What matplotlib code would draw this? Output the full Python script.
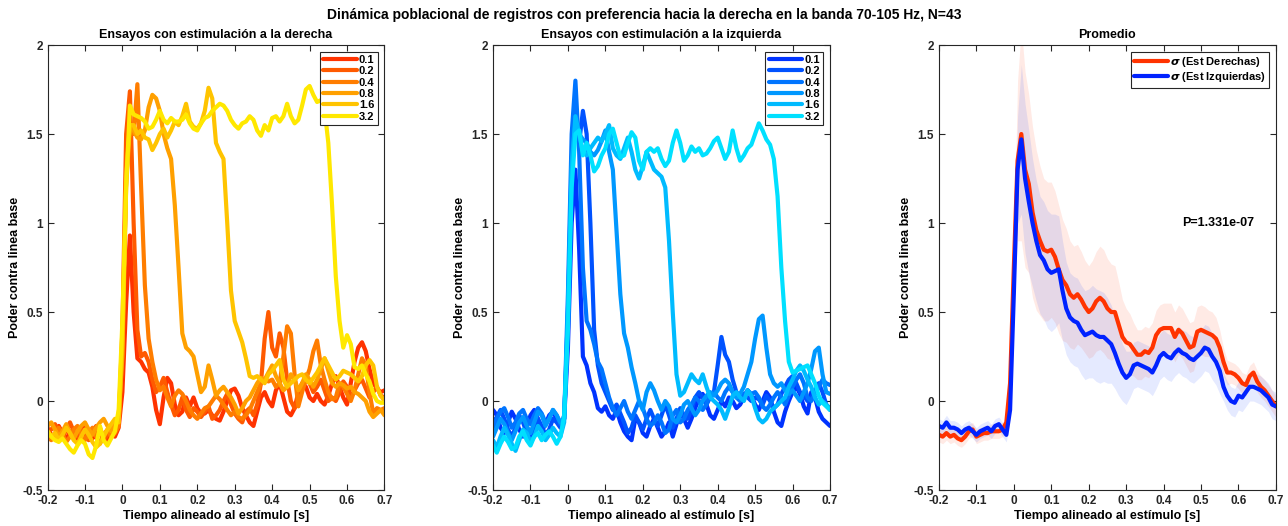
import numpy as np
import matplotlib
matplotlib.use("Agg")
import matplotlib.pyplot as plt
from matplotlib.ticker import FuncFormatter

plt.rcParams['font.family'] = ['Liberation Sans', 'DejaVu Sans']
plt.rcParams['font.weight'] = 'bold'
plt.rcParams['lines.solid_joinstyle'] = 'round'
plt.rcParams['lines.solid_capstyle'] = 'round'

# tiempo [s], muestras cada 10 ms
t = np.round(np.arange(-0.2, 0.7001, 0.01), 2)

labels = ['0.1', '0.2', '0.4', '0.8', '1.6', '3.2']

# ---- estimulacion a la derecha ----
der_01 = [-0.15, -0.19, -0.21, -0.14, -0.18, -0.22, -0.17, -0.20, -0.23, -0.18,
          -0.13, -0.18, -0.21, -0.19, -0.15, -0.21, -0.23, -0.19, -0.20, -0.15,
          0.05, 0.55, 0.93, 0.50, 0.24, 0.22, 0.18, 0.16, 0.08, -0.05,
          -0.13, 0.02, 0.13, 0.10, -0.02, -0.08, -0.06, 0.02, -0.03, 0.02,
          -0.04, -0.07, -0.07, -0.05, -0.08, -0.10, -0.11, -0.06, 0.00, 0.06,
          0.07, 0.03, -0.04, -0.08, -0.12, -0.14, -0.06, 0.02, 0.05, 0.00,
          -0.03, 0.06, 0.10, 0.02, -0.06, -0.08, -0.04, 0.05, 0.10, 0.08,
          0.02, 0.00, 0.04, 0.00, -0.02, 0.03, 0.10, 0.14, 0.08, 0.02,
          -0.02, 0.10, 0.22, 0.30, 0.33, 0.28, 0.18, 0.10, 0.07, 0.05,
          0.06]
der_02 = [-0.18, -0.16, -0.13, -0.17, -0.21, -0.16, -0.12, -0.17, -0.20, -0.16,
          -0.19, -0.22, -0.17, -0.14, -0.18, -0.22, -0.19, -0.15, -0.17, -0.12,
          0.40, 1.50, 1.74, 1.00, 0.40, 0.25, 0.27, 0.22, 0.12, 0.05,
          0.08, 0.13, 0.05, -0.02, -0.08, -0.05, 0.02, -0.05, -0.09, -0.04,
          -0.06, -0.09, -0.06, -0.03, -0.10, -0.08, -0.05, 0.00, 0.04, -0.02,
          -0.07, -0.10, -0.12, -0.06, -0.04, -0.08, -0.02, 0.10, 0.35, 0.50,
          0.30, 0.25, 0.38, 0.30, 0.12, 0.00, -0.04, 0.02, 0.08, 0.12,
          0.10, 0.05, 0.08, 0.12, 0.06, 0.00, 0.02, 0.00, 0.05, 0.11,
          0.08, 0.02, 0.06, 0.10, 0.12, 0.07, 0.02, 0.05, 0.08, 0.03,
          0.02]
der_04 = [-0.20, -0.22, -0.18, -0.15, -0.19, -0.23, -0.20, -0.16, -0.14, -0.19,
          -0.22, -0.18, -0.15, -0.20, -0.24, -0.19, -0.16, -0.20, -0.18, -0.14,
          0.30, 1.30, 1.55, 1.50, 1.78, 1.20, 0.65, 0.35, 0.22, 0.12,
          0.06, 0.08, 0.02, -0.03, 0.03, 0.06, 0.04, 0.00, -0.05, -0.08,
          -0.10, -0.07, -0.04, -0.03, 0.00, 0.03, 0.01, -0.02, -0.05, -0.08,
          -0.06, -0.09, -0.10, -0.08, -0.05, 0.00, 0.05, 0.10, 0.12, 0.11,
          0.12, 0.08, 0.10, 0.25, 0.42, 0.38, 0.15, -0.03, 0.05, 0.12,
          0.18, 0.28, 0.34, 0.20, 0.12, 0.05, 0.01, 0.02, 0.10, 0.08,
          0.04, 0.00, 0.06, 0.15, 0.24, 0.20, 0.05, -0.07, -0.04, -0.05,
          -0.04]
der_08 = [-0.14, -0.12, -0.16, -0.20, -0.17, -0.13, -0.18, -0.21, -0.17, -0.14,
          -0.12, -0.16, -0.19, -0.15, -0.12, -0.10, -0.14, -0.17, -0.13, -0.08,
          0.25, 1.20, 1.55, 1.52, 1.48, 1.47, 1.52, 1.65, 1.72, 1.70,
          1.63, 1.50, 1.42, 1.36, 1.10, 0.75, 0.38, 0.30, 0.28, 0.25,
          0.15, 0.05, 0.08, 0.20, 0.12, 0.03, 0.06, 0.08, 0.05, 0.02,
          -0.02, -0.07, -0.04, 0.00, 0.02, 0.06, 0.10, 0.13, 0.12, 0.16,
          0.20, 0.14, 0.10, 0.06, 0.08, 0.15, 0.12, 0.06, 0.10, 0.15,
          0.12, 0.08, 0.12, 0.18, 0.24, 0.17, 0.10, 0.08, 0.10, 0.09,
          0.07, 0.08, 0.05, 0.04, 0.02, 0.00, -0.06, -0.09, -0.07, -0.05,
          -0.08]
der_16 = [-0.17, -0.20, -0.18, -0.22, -0.19, -0.15, -0.18, -0.22, -0.24, -0.20,
          -0.16, -0.19, -0.23, -0.26, -0.24, -0.20, -0.16, -0.13, -0.10, -0.12,
          0.35, 1.25, 1.55, 1.55, 1.50, 1.52, 1.48, 1.47, 1.41, 1.45,
          1.50, 1.53, 1.48, 1.52, 1.57, 1.55, 1.60, 1.67, 1.57, 1.54,
          1.53, 1.56, 1.63, 1.76, 1.70, 1.45, 1.40, 1.36, 1.00, 0.62,
          0.45, 0.39, 0.33, 0.24, 0.14, 0.13, 0.14, 0.12, 0.10, 0.15,
          0.17, 0.20, 0.23, 0.12, 0.08, 0.10, 0.12, 0.14, 0.15, 0.12,
          0.10, 0.13, 0.16, 0.20, 0.24, 0.20, 0.16, 0.12, 0.14, 0.17,
          0.16, 0.15, 0.13, 0.11, 0.14, 0.20, 0.23, 0.20, 0.08, 0.03,
          0.00]
der_32 = [-0.17, -0.20, -0.22, -0.23, -0.21, -0.24, -0.27, -0.29, -0.25, -0.22,
          -0.24, -0.30, -0.32, -0.25, -0.14, -0.22, -0.25, -0.21, -0.17, -0.05,
          0.45, 1.20, 1.66, 1.61, 1.60, 1.59, 1.57, 1.53, 1.54, 1.58,
          1.63, 1.58, 1.56, 1.59, 1.57, 1.57, 1.58, 1.61, 1.56, 1.53,
          1.52, 1.56, 1.59, 1.60, 1.63, 1.65, 1.67, 1.66, 1.63, 1.58,
          1.55, 1.53, 1.56, 1.57, 1.60, 1.58, 1.52, 1.49, 1.55, 1.52,
          1.59, 1.60, 1.57, 1.60, 1.67, 1.60, 1.56, 1.58, 1.66, 1.75,
          1.77, 1.72, 1.68, 1.69, 1.64, 1.45, 1.10, 0.70, 0.45, 0.30,
          0.37, 0.32, 0.19, 0.18, 0.20, 0.15, 0.11, 0.04, 0.00, -0.01,
          -0.01]

# ---- estimulacion a la izquierda ----
izq_01 = [-0.05, -0.08, -0.15, -0.18, -0.12, -0.06, -0.10, -0.16, -0.20, -0.14,
          -0.08, -0.05, -0.10, -0.17, -0.13, -0.08, -0.06, -0.10, -0.14, -0.10,
          0.30, 1.00, 1.30, 0.85, 0.25, 0.20, 0.10, 0.05, -0.04, -0.06,
          -0.03, -0.08, -0.10, -0.05, -0.12, -0.17, -0.20, -0.22, -0.10, -0.12,
          -0.18, -0.20, -0.14, -0.10, -0.15, -0.20, -0.17, -0.12, -0.20, -0.13,
          -0.06, -0.10, -0.15, -0.10, -0.04, 0.02, 0.04, -0.02, -0.08, -0.10,
          -0.05, 0.00, -0.03, 0.02, 0.00, -0.04, -0.02, 0.02, 0.06, 0.03,
          -0.02, -0.05, 0.00, 0.05, 0.02, -0.06, -0.12, -0.14, -0.06, 0.00,
          0.05, 0.08, 0.04, -0.03, -0.07, 0.05, 0.02, -0.06, -0.10, -0.12,
          -0.14]
izq_02 = [-0.12, -0.09, -0.05, -0.10, -0.16, -0.20, -0.15, -0.08, -0.12, -0.18,
          -0.22, -0.15, -0.10, -0.14, -0.19, -0.16, -0.10, -0.12, -0.15, -0.08,
          0.40, 1.30, 1.55, 1.45, 1.63, 1.50, 1.00, 0.40, 0.20, 0.10,
          0.05, 0.00, -0.05, -0.02, -0.07, -0.12, -0.18, -0.15, -0.08, -0.12,
          -0.16, -0.10, -0.05, -0.10, -0.14, -0.08, -0.02, -0.08, -0.15, -0.10,
          -0.04, -0.08, -0.10, -0.05, 0.02, 0.05, 0.02, -0.02, 0.02, 0.05,
          0.20, 0.36, 0.26, 0.22, 0.12, 0.05, 0.03, 0.04, 0.02, 0.00,
          0.02, 0.01, -0.02, 0.03, 0.00, -0.04, -0.02, 0.04, 0.08, 0.12,
          0.14, 0.10, 0.05, 0.03, 0.00, 0.02, 0.06, 0.10, 0.05, -0.02,
          -0.05]
izq_04 = [-0.15, -0.10, -0.06, -0.04, -0.09, -0.15, -0.12, -0.07, -0.05, -0.10,
          -0.13, -0.08, -0.04, -0.07, -0.12, -0.10, -0.05, -0.08, -0.13, -0.10,
          0.60, 1.50, 1.80, 1.40, 0.75, 0.45, 0.40, 0.32, 0.22, 0.18,
          0.10, 0.02, -0.04, -0.08, -0.04, 0.00, -0.06, -0.10, -0.05, 0.00,
          -0.04, -0.10, -0.14, -0.12, -0.08, -0.12, -0.18, -0.16, -0.08, -0.05,
          -0.12, -0.10, -0.05, -0.02, 0.02, 0.00, -0.05, -0.02, 0.04, 0.05,
          0.02, 0.00, 0.05, 0.08, 0.05, 0.02, 0.00, 0.03, 0.06, 0.04,
          0.05, 0.02, -0.03, -0.05, -0.02, 0.02, 0.05, 0.02, -0.02, 0.03,
          0.08, 0.12, 0.15, 0.10, 0.02, 0.00, 0.04, 0.08, 0.12, 0.10,
          0.09]
izq_08 = [-0.20, -0.15, -0.10, -0.13, -0.18, -0.22, -0.17, -0.12, -0.09, -0.14,
          -0.18, -0.12, -0.06, -0.08, -0.14, -0.10, -0.05, -0.08, -0.12, -0.10,
          0.50, 1.35, 1.56, 1.50, 1.47, 1.45, 1.40, 1.38, 1.41, 1.46,
          1.52, 1.40, 1.30, 0.95, 0.60, 0.38, 0.30, 0.19, 0.10, 0.00,
          -0.05, 0.05, 0.10, 0.06, 0.00, -0.05, 0.00, -0.03, -0.10, -0.12,
          -0.08, -0.02, 0.00, -0.04, -0.08, -0.05, 0.00, 0.03, 0.05, 0.03,
          0.06, 0.10, 0.12, 0.10, 0.05, 0.02, 0.04, 0.08, 0.15, 0.22,
          0.35, 0.46, 0.48, 0.30, 0.15, 0.10, 0.08, 0.10, 0.06, 0.04,
          0.06, 0.03, 0.00, 0.05, 0.10, 0.18, 0.28, 0.30, 0.15, 0.05,
          0.04]
izq_16 = [-0.22, -0.26, -0.20, -0.15, -0.19, -0.24, -0.28, -0.22, -0.16, -0.18,
          -0.23, -0.20, -0.14, -0.17, -0.22, -0.19, -0.15, -0.18, -0.20, -0.12,
          0.50, 1.30, 1.60, 1.50, 1.40, 1.38, 1.42, 1.45, 1.48, 1.46,
          1.50, 1.55, 1.42, 1.38, 1.36, 1.42, 1.48, 1.40, 1.30, 1.25,
          1.32, 1.40, 1.35, 1.30, 1.28, 1.26, 1.20, 0.90, 0.50, 0.15,
          0.03, 0.05, 0.10, 0.15, 0.12, 0.10, 0.15, 0.08, 0.02, 0.00,
          -0.02, -0.05, -0.10, -0.04, 0.03, 0.05, 0.02, 0.00, 0.06, 0.03,
          -0.04, -0.10, -0.12, -0.10, -0.06, -0.04, -0.02, 0.00, 0.02, 0.08,
          0.12, 0.17, 0.20, 0.17, 0.12, 0.08, 0.02, -0.02, 0.00, -0.02,
          -0.04]
izq_32 = [-0.25, -0.29, -0.24, -0.20, -0.23, -0.27, -0.26, -0.20, -0.17, -0.22,
          -0.25, -0.20, -0.18, -0.22, -0.19, -0.17, -0.20, -0.24, -0.20, -0.08,
          0.40, 1.20, 1.50, 1.52, 1.38, 1.45, 1.38, 1.29, 1.32, 1.38,
          1.42, 1.50, 1.53, 1.45, 1.37, 1.38, 1.45, 1.51, 1.48, 1.35,
          1.30, 1.40, 1.42, 1.40, 1.42, 1.36, 1.32, 1.35, 1.45, 1.52,
          1.45, 1.35, 1.38, 1.43, 1.40, 1.42, 1.38, 1.39, 1.42, 1.46,
          1.48, 1.42, 1.36, 1.40, 1.52, 1.42, 1.35, 1.38, 1.42, 1.44,
          1.50, 1.56, 1.52, 1.47, 1.44, 1.36, 1.15, 0.75, 0.45, 0.22,
          0.16, 0.17, 0.18, 0.19, 0.20, 0.15, 0.10, 0.03, -0.01, -0.03,
          -0.05]

# ---- promedios y error estandar ----
prom_der = [-0.19, -0.20, -0.18, -0.20, -0.19, -0.21, -0.22, -0.20, -0.17, -0.16,
            -0.20, -0.19, -0.18, -0.18, -0.17, -0.17, -0.17, -0.16, -0.12, 0.10,
            0.75, 1.35, 1.50, 1.30, 1.22, 1.06, 0.96, 0.90, 0.85, 0.84,
            0.85, 0.81, 0.74, 0.68, 0.65, 0.60, 0.58, 0.60, 0.57, 0.53,
            0.50, 0.52, 0.56, 0.58, 0.56, 0.52, 0.50, 0.50, 0.43, 0.36,
            0.33, 0.32, 0.29, 0.26, 0.26, 0.28, 0.27, 0.30, 0.37, 0.40,
            0.41, 0.41, 0.41, 0.36, 0.40, 0.38, 0.34, 0.30, 0.31, 0.39,
            0.40, 0.39, 0.38, 0.37, 0.35, 0.30, 0.22, 0.16, 0.16, 0.15,
            0.13, 0.10, 0.09, 0.14, 0.16, 0.11, 0.08, 0.06, 0.03, 0.00,
            -0.03]
prom_izq = [-0.14, -0.15, -0.12, -0.15, -0.15, -0.16, -0.18, -0.16, -0.15, -0.17,
            -0.19, -0.17, -0.16, -0.15, -0.17, -0.14, -0.13, -0.16, -0.19, -0.05,
            0.60, 1.30, 1.47, 1.25, 1.12, 1.00, 0.90, 0.82, 0.79, 0.74,
            0.72, 0.73, 0.74, 0.62, 0.52, 0.47, 0.45, 0.44, 0.40, 0.37,
            0.38, 0.39, 0.37, 0.36, 0.36, 0.34, 0.32, 0.27, 0.21, 0.16,
            0.13, 0.15, 0.20, 0.21, 0.20, 0.19, 0.18, 0.16, 0.20, 0.25,
            0.27, 0.25, 0.24, 0.27, 0.29, 0.27, 0.26, 0.24, 0.23, 0.25,
            0.27, 0.30, 0.29, 0.25, 0.22, 0.17, 0.08, 0.03, 0.00, -0.01,
            0.03, 0.02, 0.05, 0.08, 0.08, 0.07, 0.06, 0.04, 0.02, -0.02,
            -0.03]
sem_der = [0.04] * 20 + [
            0.15, 0.45, 0.60, 0.55, 0.50, 0.48, 0.45, 0.42, 0.40, 0.39,
            0.38, 0.37, 0.36, 0.34, 0.32, 0.30, 0.29, 0.28, 0.27, 0.26,
            0.26, 0.27, 0.28, 0.29, 0.29, 0.28, 0.27, 0.26, 0.24, 0.21,
            0.19, 0.17, 0.15, 0.14, 0.14, 0.14, 0.14, 0.14, 0.14, 0.14,
            0.14, 0.14, 0.14, 0.14, 0.14, 0.14, 0.14, 0.14, 0.14, 0.14,
            0.14, 0.14, 0.13, 0.13, 0.12, 0.10, 0.08, 0.07] + [0.06] * 13
sem_izq = [0.04] * 20 + [
            0.10, 0.30, 0.42, 0.42, 0.40, 0.36, 0.34, 0.33, 0.33, 0.33,
            0.33, 0.32, 0.30, 0.28, 0.26, 0.25, 0.25, 0.25, 0.25, 0.25,
            0.25, 0.26, 0.26, 0.26, 0.25, 0.24, 0.22, 0.20, 0.18, 0.16,
            0.15] + [0.13] * 25 + [0.08] * 15
p_valor = 1.331e-07

col_der = ['#ff3300', '#ff5a00', '#ff7d00', '#ffa000', '#ffc400', '#ffe800']
col_izq = ['#0033ff', '#0052ff', '#0075ff', '#0098ff', '#00bbff', '#00e0ff']


def fmt(v, pos):
    return '%g' % round(v, 2)


def estilo(ax, titulo):
    ax.set_xlim(-0.2, 0.7)
    ax.set_ylim(-0.5, 2)
    ax.set_xticks(np.arange(-0.2, 0.71, 0.1))
    ax.set_yticks([-0.5, 0, 0.5, 1, 1.5, 2])
    ax.xaxis.set_major_formatter(FuncFormatter(fmt))
    ax.yaxis.set_major_formatter(FuncFormatter(fmt))
    ax.tick_params(direction='in', top=True, right=True, length=4,
                   labelsize=8.5, colors='#262626', width=0.8)
    for lbl in ax.get_xticklabels() + ax.get_yticklabels():
        lbl.set_fontweight('bold')
    for s in ax.spines.values():
        s.set_color('#262626')
        s.set_linewidth(0.8)
    ax.set_title(titulo, fontsize=9, fontweight='bold', pad=5)
    ax.set_xlabel('Tiempo alineado al estímulo [s]', fontsize=9,
                  fontweight='bold', labelpad=2)
    ax.set_ylabel('Poder contra linea base', fontsize=9,
                  fontweight='bold', labelpad=1)


def leyenda(ax):
    leg = ax.legend(loc='upper right', fontsize=8, handlelength=3.0,
                    handletextpad=0.2, labelspacing=0.12, borderpad=0.3,
                    fancybox=False, framealpha=1, borderaxespad=0.6)
    leg.get_frame().set_edgecolor('#262626')
    leg.get_frame().set_linewidth(0.8)
    for txt in leg.get_texts():
        txt.set_fontweight('bold')


fig = plt.figure(figsize=(12.88, 5.26), dpi=100)
w, h, b = 0.2616, 0.846, 0.0684
ax1 = fig.add_axes([0.0369, b, w, h])
ax2 = fig.add_axes([0.3828, b, w, h])
ax3 = fig.add_axes([0.7290, b, w, h])

for y, c, l in zip([der_01, der_02, der_04, der_08, der_16, der_32], col_der, labels):
    ax1.plot(t, y, color=c, lw=3, label=l)
for y, c, l in zip([izq_01, izq_02, izq_04, izq_08, izq_16, izq_32], col_izq, labels):
    ax2.plot(t, y, color=c, lw=3, label=l)

estilo(ax1, 'Ensayos con estimulación a la derecha')
estilo(ax2, 'Ensayos con estimulación a la izquierda')
leyenda(ax1)
leyenda(ax2)

m_der = np.array(prom_der)
m_izq = np.array(prom_izq)
e_der = np.array(sem_der)
e_izq = np.array(sem_izq)
ax3.fill_between(t, m_der - e_der, m_der + e_der, color='#ff3300', alpha=0.1, lw=0)
ax3.fill_between(t, m_izq - e_izq, m_izq + e_izq, color='#0033ff', alpha=0.1, lw=0)
ax3.plot(t, m_der, color='#ff3300', lw=3, label=r'$\sigma$ (Est Derechas)')
ax3.plot(t, m_izq, color='#0022ff', lw=3, label=r'$\sigma$ (Est Izquierdas)')
estilo(ax3, 'Promedio')
leyenda(ax3)
ax3.text(0.45, 1.0, 'P=%.3e' % p_valor, fontsize=9, fontweight='bold', va='center')

fig.suptitle('Dinámica poblacional de registros con preferencia hacia la derecha '
             'en la banda 70-105 Hz, N=43', fontsize=10, fontweight='bold', y=0.985)

fig.savefig('out.png', dpi=100)
